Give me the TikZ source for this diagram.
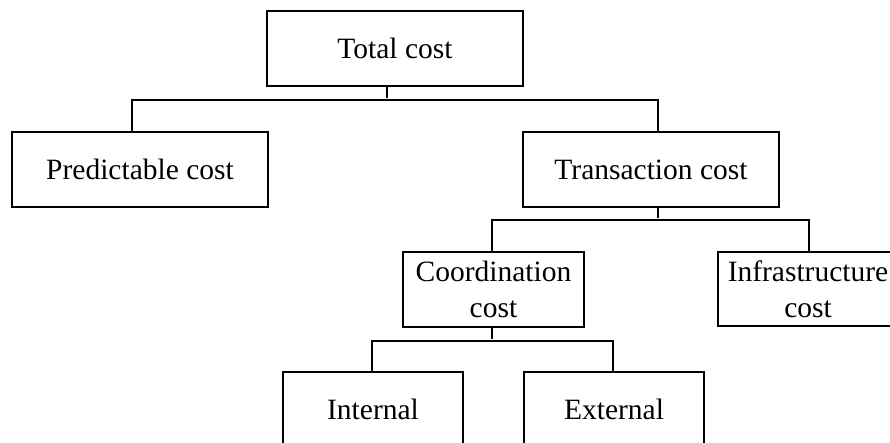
\documentclass[tikz,border=0pt]{standalone}
\usepackage{fontspec}
\setmainfont{Liberation Serif}
\begin{document}
\begin{tikzpicture}[x=1pt,y=-1pt,
  costbox/.style={draw=black,line width=1.5pt,rectangle,inner sep=0pt,align=center,
    font=\fontsize{29.5}{36}\selectfont},
  link/.style={draw=black,line width=1.5pt}]
\useasboundingbox (0,0) rectangle (890,443);
\clip (0,0) rectangle (890,443);
\node[costbox,minimum width=256pt,minimum height=75pt] (total) at (395,48.5) {Total cost};
\node[costbox,minimum width=256pt,minimum height=75pt] (pred) at (140,169.5) {Predictable cost};
\node[costbox,minimum width=256pt,minimum height=75pt] (trans) at (651,169.5) {Transaction cost};
\node[costbox,minimum width=181pt,minimum height=75pt] (coord) at (493.5,289.5) {Coordination\\cost};
\node[costbox,minimum width=180pt,minimum height=74pt] (infra) at (808,289) {Infrastructure\\cost};
\node[costbox,minimum width=180pt,minimum height=75pt] (int) at (373,409.5) {Internal};
\node[costbox,minimum width=180pt,minimum height=75pt] (ext) at (614,409.5) {External};
\coordinate (j1) at (387,100);
\coordinate (j2) at (658,220);
\coordinate (j3) at (492,341);
% level 1
\draw[link] (total.south -| j1) -- ([yshift=2pt]j1);
\draw[link] (pred.north -| 132,0) |- (j1) -| (trans.north -| 658,0);
% level 2
\draw[link] (trans.south -| j2) -- ([yshift=2pt]j2);
\draw[link] (coord.north -| j3) |- (j2) -| (infra.north -| 809,0);
% level 3
\draw[link] (coord.south -| j3) -- ([yshift=2pt]j3);
\draw[link] (int.north -| 372,0) |- (j3) -| (ext.north -| 613,0);
\end{tikzpicture}
\end{document}
